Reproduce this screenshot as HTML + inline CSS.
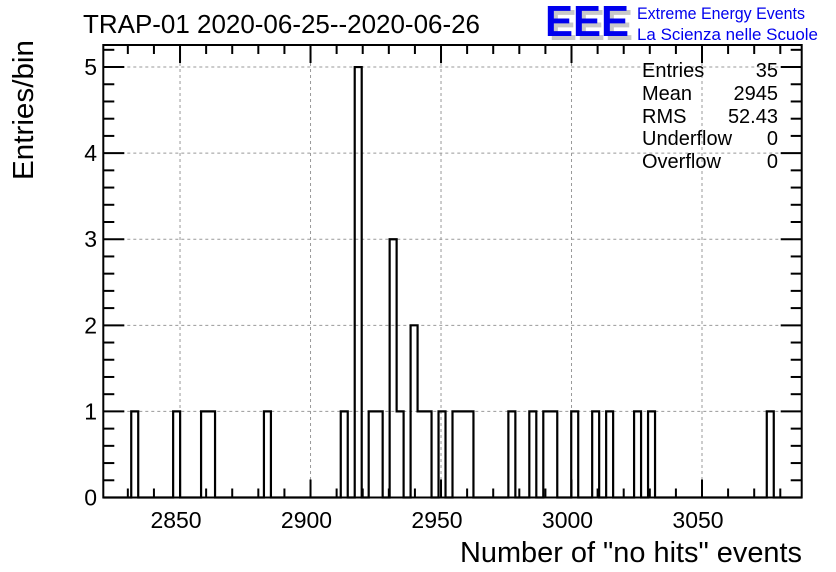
<!DOCTYPE html>
<html><head><meta charset="utf-8"><style>
html,body{margin:0;padding:0;background:#fff;}
svg{display:block;font-family:"Liberation Sans",Arial,sans-serif;}
</style></head><body>
<svg id="chart" width="836" height="572" viewBox="0 0 836 572">
<rect width="836" height="572" fill="#fff"/>
<g id="grid"></g>
<g id="ticks"></g>
<g id="hist"></g>
<rect x="103.3" y="45" width="698.4" height="452.5" fill="none" stroke="#000" stroke-width="2"/>
<text x="83" y="33" font-size="26" textLength="397" lengthAdjust="spacingAndGlyphs">TRAP-01 2020-06-25--2020-06-26</text>
<g>
<text x="549" y="40" font-size="44" font-weight="bold" fill="#c8c8c8" textLength="84" lengthAdjust="spacingAndGlyphs">EEE</text>
<text x="545" y="36" font-size="44" font-weight="bold" fill="#0000ee" textLength="84" lengthAdjust="spacingAndGlyphs">EEE</text>
<text x="637" y="19" font-size="17" fill="#0000ee" textLength="168" lengthAdjust="spacingAndGlyphs">Extreme Energy Events</text>
<text x="637" y="40" font-size="17" fill="#0000ee" textLength="181" lengthAdjust="spacingAndGlyphs">La Scienza nelle Scuole</text>
</g>
<g font-size="20">
<text x="642" y="77">Entries</text><text x="778" y="77" text-anchor="end">35</text>
<text x="642" y="100">Mean</text><text x="778" y="100" text-anchor="end">2945</text>
<text x="642" y="123">RMS</text><text x="778" y="123" text-anchor="end">52.43</text>
<text x="642" y="145">Underflow</text><text x="778" y="145" text-anchor="end">0</text>
<text x="642" y="168">Overflow</text><text x="778" y="168" text-anchor="end">0</text>
</g>
<text x="802" y="562" font-size="29" text-anchor="end" textLength="342" lengthAdjust="spacingAndGlyphs">Number of "no hits" events</text>
<text transform="translate(33,180) rotate(-90)" font-size="29" textLength="140" lengthAdjust="spacingAndGlyphs">Entries/bin</text>
<g id="labels" font-size="23"></g>
</svg>
<script>
const xMin = 2820.6, xMax = 3088.2;
const yMin = 0, yMax = 5.256;
const nBins = 100;
const binIndex = [4,10,14,15,23,34,36,38,39,41,42,44,45,46,48,50,51,52,58,61,63,64,67,70,72,76,78,95];
const binCount = [1,1,1,1,1,1,5,1,1,3,1,2,1,1,1,1,1,1,1,1,1,1,1,1,1,1,1,1];
const xTicks = [2850,2900,2950,3000,3050];
const xTickLabels = ["2850","2900","2950","3000","3050"];
const yTicks = [0,1,2,3,4,5];
const yTickLabels = ["0","1","2","3","4","5"];

const L=103.3,R=801.7,T=45,B=497.5;
const NS="http://www.w3.org/2000/svg";
function sx(v){return L+(v-xMin)/(xMax-xMin)*(R-L);}
function sy(v){return B-(v-yMin)/(yMax-yMin)*(B-T);}
function mk(tag,attrs,parent){const e=document.createElementNS(NS,tag);for(const k in attrs)e.setAttribute(k,attrs[k]);parent.appendChild(e);return e;}
const grid=document.getElementById('grid'),ticks=document.getElementById('ticks'),hist=document.getElementById('hist'),labels=document.getElementById('labels');

xTicks.forEach((v,i)=>{
  const x=sx(v);
  const g=mk('line',{x1:x,x2:x,y1:T,y2:B,stroke:'#999','stroke-dasharray':'3,3','stroke-width':1},grid);
  
  
  const t=mk('text',{x:x-4,y:528,'text-anchor':'middle'},labels);
  t.textContent=xTickLabels[i];
  
  
});
yTicks.forEach((v,i)=>{
  const y=sy(v);
  if(v>0){const g=mk('line',{x1:L,x2:R,y1:y,y2:y,stroke:'#999','stroke-dasharray':'3,3','stroke-width':1},grid);
  
  }
  const t=mk('text',{x:97,y:y+8,'text-anchor':'end'},labels);
  t.textContent=yTickLabels[i];
  
  
});
for(let v=Math.ceil(xMin/10)*10; v<=xMax; v+=10){
  const x=sx(v), len=(v%50===0)?18:9;
  const a=mk('line',{x1:x,x2:x,y1:B,y2:B-len,stroke:'#000','stroke-width':2},ticks);
  
  
  const b=mk('line',{x1:x,x2:x,y1:T,y2:T+len,stroke:'#000','stroke-width':2},ticks);
  
  
}
for(let k=0;k*0.2<=yMax+1e-9;k++){
  const v=k*0.2, y=sy(v), len=(k%5===0)?21:11;
  const a=mk('line',{x1:L,x2:L+len,y1:y,y2:y,stroke:'#000','stroke-width':2},ticks);
  
  
  const b=mk('line',{x1:R,x2:R-len,y1:y,y2:y,stroke:'#000','stroke-width':2},ticks);
  
  
}
const counts=new Array(nBins).fill(0);
binIndex.forEach((b,i)=>{counts[b]=binCount[i];});
const bw=(xMax-xMin)/nBins;
let d='M'+sx(xMin)+','+sy(0);
for(let i=0;i<nBins;i++){
  const x0=sx(xMin+i*bw),x1=sx(xMin+(i+1)*bw),y=sy(counts[i]);
  d+=' L'+x0+','+y+' L'+x1+','+y;
}
d+=' L'+sx(xMax)+','+sy(0);
const p=mk('path',{d:d,fill:'none',stroke:'#000','stroke-width':2.2},hist);


</script>
</body></html>
